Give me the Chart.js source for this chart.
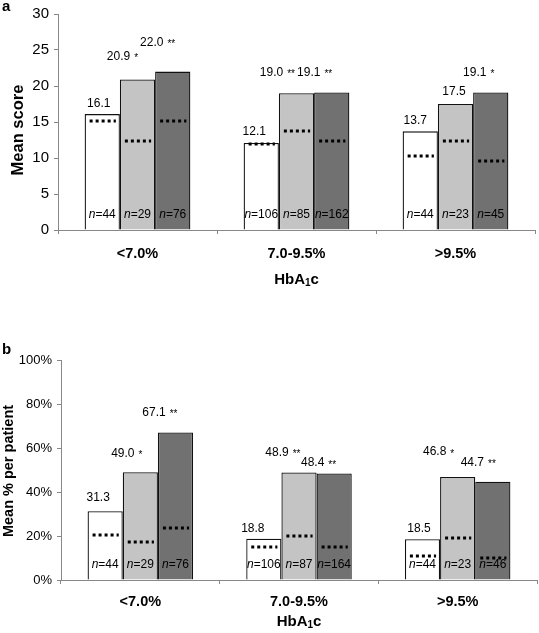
<!DOCTYPE html>
<html>
<head>
<meta charset="utf-8">
<script src="https://cdn.jsdelivr.net/npm/chart.js@4.4.0/dist/chart.umd.min.js"></script>
<style>
    body { margin: 0; background: #fff; }
    .panel { position: absolute; left: 0; width: 539px; }
    #panel_a { top: 0; height: 300px; }
    #panel_b { top: 300px; height: 333px; }
</style>
</head>
<body>
<div class="panel" id="panel_a"><canvas id="score_chart" width="539" height="300"></canvas></div>
<div class="panel" id="panel_b"><canvas id="percent_chart" width="539" height="333"></canvas></div>
<script>
const FONT = '"Liberation Sans", Arial, sans-serif';

/* Categories */
const hbaGroups = ['<7.0%', '7.0-9.5%', '>9.5%'];

/* Panel a: mean score */
const scoreWhite = [16.1, 12.1, 13.7];
const scoreLight = [20.9, 19.0, 17.5];
const scoreDark = [22.0, 19.1, 19.1];
const scoreBaseWhite = [15.2, 12.0, 10.3];
const scoreBaseLight = [12.4, 13.8, 12.3];
const scoreBaseDark = [15.2, 12.3, 9.6];
const scoreNWhite = [44, 106, 44];
const scoreNLight = [29, 85, 23];
const scoreNDark = [76, 162, 45];
const scoreStarsWhite = ['', '', ''];
const scoreStarsLight = ['*', '**', ''];
const scoreStarsDark = ['**', '**', '*'];
const scoreTicks = [0, 5, 10, 15, 20, 25, 30];

/* Panel b: mean % per patient */
const pctWhite = [31.3, 18.8, 18.5];
const pctLight = [49.0, 48.9, 46.8];
const pctDark = [67.1, 48.4, 44.7];
const pctBaseWhite = [20.5, 15.0, 11.0];
const pctBaseLight = [17.5, 20.0, 19.0];
const pctBaseDark = [23.8, 15.0, 10.0];
const pctNWhite = [44, 106, 44];
const pctNLight = [29, 87, 23];
const pctNDark = [76, 164, 46];
const pctStarsWhite = ['', '', ''];
const pctStarsLight = ['*', '**', '*'];
const pctStarsDark = ['**', '**', '**'];
const pctTicks = [0, 20, 40, 60, 80, 100];

const barColors = ['#ffffff', '#c4c4c4', '#717171'];

/* Draws dotted baselines, value labels, n labels and titles */
const annotatePlugin = {
    id: 'annotate',
    afterDatasetsDraw(chart, args, opts) {
        const ctx = chart.ctx;
        const yScale = chart.scales.y;
        const area = chart.chartArea;
        ctx.save();
        chart.data.datasets.forEach((ds, i) => {
            const meta = chart.getDatasetMeta(i);
            meta.data.forEach((bar, j) => {
                const half = bar.width / 2;

                // dotted line for the baseline value
                const by = Math.round(yScale.getPixelForValue(opts.baseline[i][j]));
                ctx.strokeStyle = '#000';
                ctx.lineWidth = 3;
                ctx.setLineDash([3, 3]);
                ctx.beginPath();
                ctx.moveTo(bar.x - half + 5, by);
                ctx.lineTo(bar.x + half - 4, by);
                ctx.stroke();
                ctx.setLineDash([]);

                // n= label at bottom of bar
                ctx.fillStyle = '#000';
                ctx.textBaseline = 'middle';
                ctx.textAlign = 'left';
                const rest = '=' + opts.n[i][j];
                ctx.font = 'italic 12px ' + FONT;
                const wn = ctx.measureText('n').width;
                ctx.font = '12px ' + FONT;
                const wr = ctx.measureText(rest).width;
                const nx = bar.x - (wn + wr) / 2;
                const ny = area.bottom - 15;
                ctx.font = 'italic 12px ' + FONT;
                ctx.fillText('n', nx, ny);
                ctx.font = '12px ' + FONT;
                ctx.fillText(rest, nx + wn, ny);

                // value label above bar
                const off = opts.offsets[i][j];
                const lx = bar.x + off[0];
                const ly = bar.y - off[1];
                ctx.font = '12px ' + FONT;
                ctx.textAlign = 'center';
                const txt = ds.data[j].toFixed(1);
                ctx.fillText(txt, lx, ly);
                const stars = opts.stars[i][j];
                if (stars) {
                    const tw = ctx.measureText(txt).width;
                    ctx.font = '10px ' + FONT;
                    ctx.textAlign = 'left';
                    ctx.fillText(stars, lx + tw / 2 + 4, ly + 2);
                }
            });
        });
        ctx.restore();
    },
    afterDraw(chart, args, opts) {
        const ctx = chart.ctx;
        const area = chart.chartArea;
        ctx.save();
        ctx.fillStyle = '#000';

        // panel letter
        ctx.font = 'bold 15px ' + FONT;
        ctx.textAlign = 'left';
        ctx.textBaseline = 'middle';
        ctx.fillText(opts.letter, 2, opts.letterY);

        // y axis title
        ctx.save();
        ctx.translate(opts.yTitleX, (area.top + area.bottom) / 2 + opts.yTitleShift);
        ctx.rotate(-Math.PI / 2);
        ctx.textAlign = 'center';
        ctx.font = 'bold ' + opts.yTitleSize + 'px ' + FONT;
        ctx.fillText(opts.yTitle, 0, 0);
        ctx.restore();

        // x axis title HbA1c with subscript
        const cx = (area.left + area.right) / 2;
        const ty = area.bottom + opts.xTitleGap;
        ctx.font = 'bold 15px ' + FONT;
        const w1 = ctx.measureText('HbA').width;
        const w3 = ctx.measureText('c').width;
        ctx.font = 'bold 10px ' + FONT;
        const w2 = ctx.measureText('1').width;
        let x = cx - (w1 + w2 + w3) / 2;
        ctx.textAlign = 'left';
        ctx.font = 'bold 15px ' + FONT;
        ctx.fillText('HbA', x, ty);
        ctx.font = 'bold 10px ' + FONT;
        ctx.fillText('1', x + w1, ty + 3);
        ctx.font = 'bold 15px ' + FONT;
        ctx.fillText('c', x + w1 + w2, ty);
        ctx.restore();
    }
};

Chart.register(annotatePlugin);

function makeDatasets(white, light, dark) {
    return [white, light, dark].map((values, k) => ({
        data: values,
        backgroundColor: barColors[k],
        borderColor: '#111',
        borderWidth: 1.3,
        borderSkipped: 'bottom',
        categoryPercentage: 0.665,
        barPercentage: 1.0
    }));
}

function makeOptions(cfg) {
    return {
        responsive: false,
        animation: false,
        layout: { padding: { top: cfg.padTop, right: cfg.padRight, left: 0, bottom: 0 } },
        plugins: {
            legend: { display: false },
            tooltip: { enabled: false },
            annotate: cfg.annotate
        },
        scales: {
            x: {
                ticks: { color: '#000', font: { family: FONT, size: 14.5, weight: 'bold' }, padding: cfg.xPad },
                grid: { drawOnChartArea: false, tickLength: 4, color: '#888', offset: true },
                border: { color: '#888' },
                afterFit: s => { s.height = cfg.xHeight; }
            },
            y: {
                min: 0,
                max: cfg.ticks[cfg.ticks.length - 1],
                afterBuildTicks: s => { s.ticks = cfg.ticks.map(v => ({ value: v })); },
                ticks: {
                    color: '#000',
                    font: { family: FONT, size: cfg.tickSize },
                    padding: 5,
                    callback: cfg.tickFormat
                },
                grid: { drawOnChartArea: false, tickLength: 4, color: '#888' },
                border: { color: '#888' },
                afterFit: s => { s.width = cfg.yWidth; }
            }
        }
    };
}

/* Panel a */
const scoreChart = new Chart(document.getElementById('score_chart'), {
    type: 'bar',
    data: { labels: hbaGroups, datasets: makeDatasets(scoreWhite, scoreLight, scoreDark) },
    options: makeOptions({
        padTop: 7, padRight: 4, xHeight: 70, yWidth: 58, tickSize: 15, xPad: 11,
        ticks: scoreTicks,
        tickFormat: v => v,
        annotate: {
            letter: 'a', letterY: 7,
            yTitle: 'Mean score', yTitleX: 18, yTitleSize: 16.5, yTitleShift: 8,
            xTitleGap: 50,
            baseline: [scoreBaseWhite, scoreBaseLight, scoreBaseDark],
            n: [scoreNWhite, scoreNLight, scoreNDark],
            stars: [scoreStarsWhite, scoreStarsLight, scoreStarsDark],
            offsets: [
                [[-3.5, 10], [-7, 11], [-5, 11]],
                [[-19, 23], [-25, 21], [-1.5, 12]],
                [[-21, 29], [-23, 20], [-16, 20]]
            ]
        }
    })
});

/* Panel b */
const percentChart = new Chart(document.getElementById('percent_chart'), {
    type: 'bar',
    data: { labels: hbaGroups, datasets: makeDatasets(pctWhite, pctLight, pctDark) },
    options: makeOptions({
        padTop: 60, padRight: 2, xHeight: 53, yWidth: 61, tickSize: 13, xPad: 9,
        ticks: pctTicks,
        tickFormat: v => v + '%',
        annotate: {
            letter: 'b', letterY: 50,
            yTitle: 'Mean % per patient', yTitleX: 9, yTitleSize: 14.5, yTitleShift: 1,
            xTitleGap: 42,
            baseline: [pctBaseWhite, pctBaseLight, pctBaseDark],
            n: [pctNWhite, pctNLight, pctNDark],
            stars: [pctStarsWhite, pctStarsLight, pctStarsDark],
            offsets: [
                [[-7, 13], [-11, 10], [-3.5, 11]],
                [[-17.5, 19], [-22, 20], [-23, 25]],
                [[-21.5, 20], [-21.5, 10.5], [-20.5, 19]]
            ]
        }
    })
});
</script>
</body>
</html>
